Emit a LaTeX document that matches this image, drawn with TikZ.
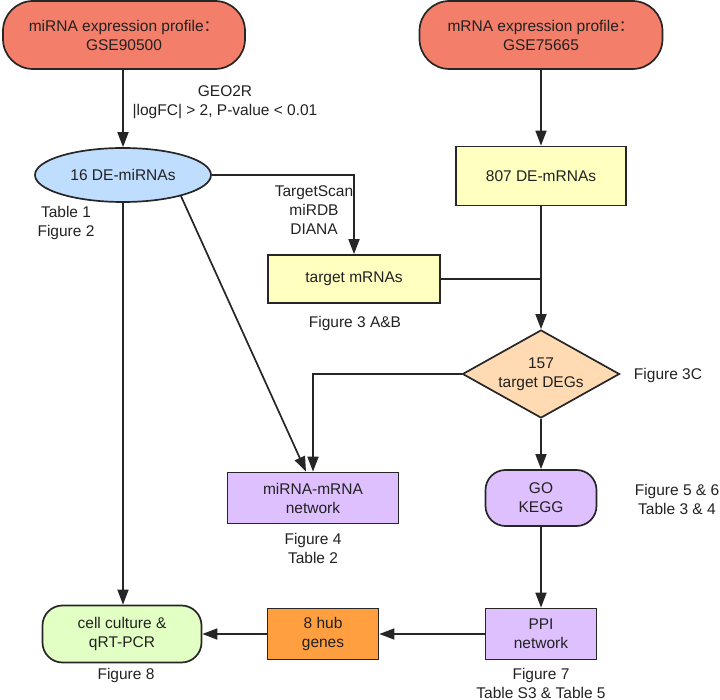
\documentclass[tikz,border=0pt]{standalone}
\usepackage{fontspec}
\setmainfont{Liberation Sans}
\newfontfamily\cjkfont{Noto Sans CJK SC}
\usetikzlibrary{shapes.geometric,arrows.meta,calc}
\definecolor{salmon}{RGB}{243,126,106}
\definecolor{lblue}{RGB}{191,222,255}
\definecolor{lyellow}{RGB}{255,255,192}
\definecolor{peach}{RGB}{255,218,178}
\definecolor{lpurple}{RGB}{222,192,255}
\definecolor{orng}{RGB}{255,159,64}
\definecolor{lgreen}{RGB}{226,255,196}
\definecolor{txt}{RGB}{34,34,34}
\tikzset{
  box/.style={draw=black!85, line width=1.7pt, inner sep=0pt, align=center, text=txt},
  pill/.style={box, rounded corners=30pt},
  rbox/.style={box, rounded corners=20pt},
  lbl/.style={align=center, text=txt, inner sep=0pt},
  conn/.style={line width=1.7pt, draw=black!85},
  arr/.style={conn, -{Triangle[length=15pt,width=11pt]}},
}
\begin{document}
\begin{tikzpicture}[x=1pt,y=-1pt,font=\fontsize{15.5}{19}\selectfont]
\useasboundingbox (0,0) rectangle (720,700);
% nodes
\node[pill, fill=salmon, minimum width=242pt, minimum height=68pt] (mi) at (124,35)
  {miRNA expression profile{\cjkfont ：}\\GSE90500};
\node[pill, fill=salmon, minimum width=243pt, minimum height=68pt] (mr) at (541,35)
  {mRNA expression profile{\cjkfont ：}\\GSE75665};
\node[box, ellipse, fill=lblue, minimum width=176pt, minimum height=54pt] (ell) at (123,175) {16 DE-miRNAs};
\node[box, fill=lyellow, minimum width=170pt, minimum height=59pt] (deg) at (541,176) {807 DE-mRNAs};
\node[box, fill=lyellow, minimum width=172pt, minimum height=48pt] (tm) at (354,279) {target mRNAs};
\node[box, diamond, fill=peach, minimum width=157pt, minimum height=88pt, aspect=1.78] (dia) at (541,374) {};
\node[lbl] (diat) at (dia.center) {157\\target DEGs};
\node[box, fill=lpurple, minimum width=171pt, minimum height=51pt] (net) at (313,498) {miRNA-mRNA\\network};
\node[rbox, fill=lpurple, minimum width=111pt, minimum height=56pt] (go) at (541,498) {GO\\KEGG};
\node[box, fill=lpurple, minimum width=111pt, minimum height=51pt] (ppi) at (541,634) {PPI\\network};
\node[box, fill=orng, minimum width=111pt, minimum height=51pt] (hub) at (323,634) {8 hub\\genes};
\node[rbox, fill=lgreen, minimum width=159pt, minimum height=57pt] (cc) at (122,634) {cell culture \&\\qRT-PCR};
% labels
\node[lbl] (l1) at (225,102) {GEO2R\\|logFC| > 2, P-value < 0.01};
\node[lbl] (l2) at (66,223) {Table 1\\Figure 2};
\node[lbl] (l3) at (314,210) {TargetScan\\miRDB\\DIANA};
\node[lbl] (l4) at (355,323) {Figure 3 A\&B};
\node[lbl] (l5) at (668,375) {Figure 3C};
\node[lbl] (l6) at (313,548) {Figure 4\\Table 2};
\node[lbl] (l7) at (677,499) {Figure 5 \& 6\\Table 3 \& 4};
\node[lbl] (l8) at (541,683) {Figure 7\\Table S3 \& Table 5};
\node[lbl] (l9) at (126,675) {Figure 8};
% connectors
\draw[arr] (mi.south -| ell.north) -- (ell.north);
\draw[arr] (ell.east) -| (tm.north);
\draw[arr] (mr.south -| deg.north) -- (deg.north);
\draw[arr] (deg.south) -- (dia.north);
\draw[conn] (tm.east) -- (tm.east -| deg.south);
\draw[arr] (dia.west) -| (net.north);
\draw[arr] (ell.-20) -- ([xshift=-7pt]net.north);
\draw[arr] (ell.south) -- (cc.north -| ell.south);
\draw[arr] (dia.south) -- (go.north);
\draw[arr] (go.south) -- (ppi.north);
\draw[arr] (ppi.west) -- (hub.east);
\draw[arr] (hub.west) -- (cc.east);
\end{tikzpicture}
\end{document}
